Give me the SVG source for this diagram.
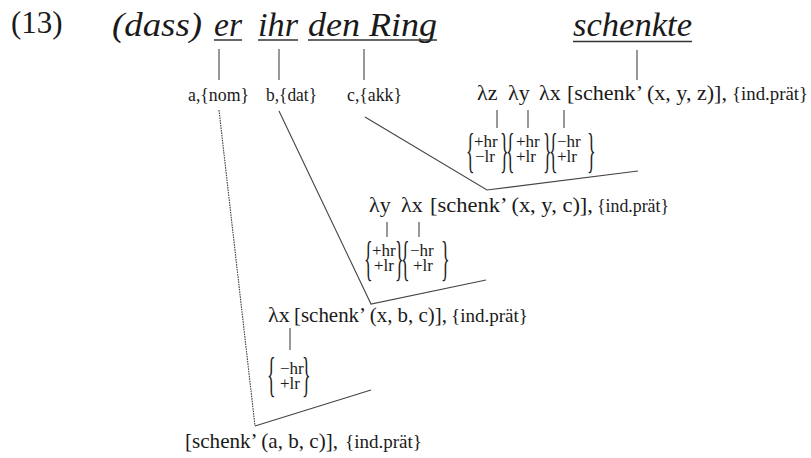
<svg xmlns="http://www.w3.org/2000/svg" width="811" height="458" viewBox="0 0 811 458">
<style>
text{font-family:"Liberation Serif","Times New Roman",serif;fill:#1a1a1a}
.w{font-style:italic;font-size:34px}
.f{font-size:22px}
.ip{font-size:18.5px}
.lb{font-size:18px}
.ft{font-size:17px}
.br{font-size:18px}
.j{letter-spacing:-2.6px}
.ul{stroke:#333;stroke-width:1.5}
.c{stroke:#444;stroke-width:1.1;fill:none}
.d{stroke-dasharray:1.6 0.9}
</style>
<rect width="811" height="458" fill="#fff"/>
<g id="num"><text x="11" y="33" font-size="31">(13)</text></g>
<g id="w-dass"><text class="w" x="112" y="36" textLength="90" lengthAdjust="spacingAndGlyphs">(dass)</text></g>
<g id="w-er"><text class="w" x="214" y="36" textLength="28" lengthAdjust="spacingAndGlyphs">er</text><line class="ul" x1="214" y1="40" x2="242" y2="40"/></g>
<g id="w-ihr"><text class="w" x="258" y="36" textLength="40" lengthAdjust="spacingAndGlyphs">ihr</text><line class="ul" x1="258" y1="40" x2="298" y2="40"/></g>
<g id="w-ring"><text class="w" x="308" y="36" textLength="129" lengthAdjust="spacingAndGlyphs">den Ring</text><line class="ul" x1="308" y1="40" x2="437" y2="40"/></g>
<g id="w-schenkte"><text class="w" x="573" y="36" textLength="119" lengthAdjust="spacingAndGlyphs">schenkte</text><line class="ul" x1="573" y1="41.5" x2="692" y2="41.5"/></g>

<g id="n-nom"><text class="lb" x="188" y="101" textLength="61" lengthAdjust="spacingAndGlyphs">a,{nom}</text></g>
<g id="n-dat"><text class="lb" x="266" y="101" textLength="51" lengthAdjust="spacingAndGlyphs">b,{dat}</text></g>
<g id="n-akk"><text class="lb" x="347" y="101" textLength="55" lengthAdjust="spacingAndGlyphs">c,{akk}</text></g>

<g id="n-verb">
<text class="f" x="477" y="100">λz</text>
<text class="f" x="508" y="100">λy</text>
<text class="f" x="539" y="100">λx</text>
<text class="f" x="567" y="100" textLength="160" lengthAdjust="spacingAndGlyphs">[schenk’ (x, y, z)],</text>
<text class="ip" x="732" y="100" textLength="76" lengthAdjust="spacingAndGlyphs">{ind.prät}</text>
<text class="br" transform="translate(466,167) scale(1,2.7)">{</text>
<text class="ft" x="474" y="147">+hr</text>
<text class="ft" x="475" y="162">−lr</text>
<text class="br j" transform="translate(500,167) scale(1,2.7)">}{</text>
<text class="ft" x="516" y="147">+hr</text>
<text class="ft" x="516" y="162">+lr</text>
<text class="br j" transform="translate(543,167) scale(1,2.7)">}{</text>
<text class="ft" x="557" y="147">−hr</text>
<text class="ft" x="557" y="162">+lr</text>
<text class="br" transform="translate(587,167) scale(1,2.7)">}</text>
</g>

<g id="n-vp1">
<text class="f" x="369" y="212">λy</text>
<text class="f" x="401" y="212">λx</text>
<text class="f" x="430" y="212" textLength="163" lengthAdjust="spacingAndGlyphs">[schenk’ (x, y, c)],</text>
<text class="ip" x="597" y="212" textLength="72" lengthAdjust="spacingAndGlyphs">{ind.prät}</text>
<text class="br" transform="translate(364,275) scale(1,2.7)">{</text>
<text class="ft" x="372" y="256">+hr</text>
<text class="ft" x="374" y="271">+lr</text>
<text class="br j" transform="translate(395,275) scale(1,2.7)">}{</text>
<text class="ft" x="410" y="256">−hr</text>
<text class="ft" x="413" y="271">+lr</text>
<text class="br" transform="translate(441,275) scale(1,2.7)">}</text>
</g>

<g id="n-vp2">
<text class="f" x="268" y="322">λx</text>
<text class="f" x="294" y="322" textLength="153" lengthAdjust="spacingAndGlyphs">[schenk’ (x, b, c)],</text>
<text class="ip" x="451" y="322" textLength="77" lengthAdjust="spacingAndGlyphs">{ind.prät}</text>
<text class="br" transform="translate(267,391) scale(1,2.7)">{</text>
<text class="ft" x="280" y="374">−hr</text>
<text class="ft" x="280" y="389">+lr</text>
<text class="br" transform="translate(302,391) scale(1,2.7)">}</text>
</g>

<g id="n-s">
<text class="f" x="185" y="448" textLength="153" lengthAdjust="spacingAndGlyphs">[schenk’ (a, b, c)],</text>
<text class="ip" x="345" y="448" textLength="77" lengthAdjust="spacingAndGlyphs">{ind.prät}</text>
</g>

<g id="connectors">
<line class="c" x1="219" y1="49" x2="219" y2="80"/>
<line class="c" x1="279" y1="49" x2="279" y2="80"/>
<line class="c" x1="364" y1="49" x2="364" y2="80"/>
<line class="c" x1="637" y1="50" x2="637" y2="80"/>
<line class="c" x1="497" y1="110" x2="497" y2="128"/>
<line class="c" x1="528" y1="110" x2="528" y2="128"/>
<line class="c" x1="564" y1="110" x2="564" y2="128"/>
<line class="c" x1="387" y1="222" x2="387" y2="237"/>
<line class="c" x1="419" y1="222" x2="419" y2="237"/>
<line class="c" x1="290" y1="328" x2="290" y2="350"/>
<polyline class="c" points="365,117 487,190 638,171"/>
<polyline class="c" points="279,111 371,304 486,280"/>
<line class="c d" x1="219" y1="110" x2="255" y2="426"/>
<line class="c" x1="255" y1="426" x2="371" y2="390"/>
</g>
</svg>
